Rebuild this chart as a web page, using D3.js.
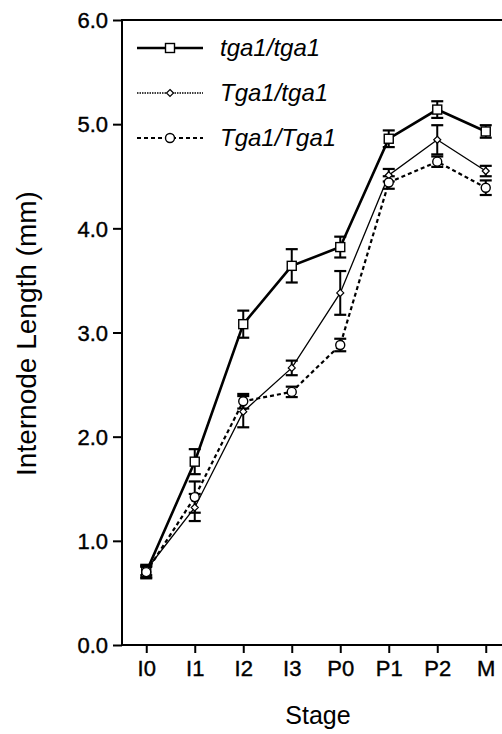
<!DOCTYPE html>
<html>
<head>
<meta charset="utf-8">
<script src="https://cdn.jsdelivr.net/npm/d3@7"></script>
<style>
  body { margin: 0; background: #fff; }
  svg { display: block; }
  text { font-family: "Liberation Sans", Arial, Helvetica, sans-serif; fill: #000; }
</style>
</head>
<body>
<svg id="chart" width="502" height="734"></svg>
<script>
"use strict"

// stages on the x axis
var stages = ["I0", "I1", "I2", "I3", "P0", "P1", "P2", "M"];
var yTicks = [0, 1, 2, 3, 4, 5, 6];

// internode length (mm) and error per genotype
var tgaTga     = [0.70, 1.76, 3.08, 3.64, 3.82, 4.86, 5.14, 4.93];
var tgaTgaErr  = [0.06, 0.12, 0.13, 0.16, 0.10, 0.08, 0.08, 0.06];
var hetero     = [0.72, 1.32, 2.24, 2.66, 3.38, 4.51, 4.85, 4.55];
var heteroErr  = [0.05, 0.13, 0.15, 0.07, 0.21, 0.06, 0.14, 0.05];
var wild       = [0.70, 1.42, 2.34, 2.43, 2.88, 4.44, 4.64, 4.39];
var wildErr    = [0.05, 0.15, 0.07, 0.05, 0.06, 0.06, 0.05, 0.07];

var series = [
    {name: "tga1/tga1", values: tgaTga, err: tgaTgaErr, marker: "square", width: 2.6, dash: null},
    {name: "Tga1/tga1", values: hetero, err: heteroErr, marker: "diamond", width: 1.3, dash: null},
    {name: "Tga1/Tga1", values: wild, err: wildErr, marker: "circle", width: 2.2, dash: "4,3"}
];

var svg = d3.select("#chart");

var plotLeft = 122, plotTop = 20, plotBottom = 645, step = 48.5;

var x = d3.scalePoint().domain(stages).range([plotLeft, plotLeft + 8 * step]).padding(0.5);
var y = d3.scaleLinear().domain([0, 6]).range([plotBottom, plotTop]);

// frame (right side runs off the picture)
svg.append("rect")
    .attr("x", plotLeft).attr("y", plotTop)
    .attr("width", 8 * step).attr("height", plotBottom - plotTop)
    .attr("fill", "none").attr("stroke", "#000").attr("stroke-width", 2);

var yAxis = svg.append("g")
    .attr("transform", "translate(" + plotLeft + ",0)")
    .call(d3.axisLeft(y).tickValues(yTicks).tickFormat(d3.format(".1f")).tickSize(9).tickPadding(5));

var xAxis = svg.append("g")
    .attr("transform", "translate(0," + plotBottom + ")")
    .call(d3.axisBottom(x).tickSize(8).tickPadding(7));

[yAxis, xAxis].forEach(function(g) {
    g.select(".domain").remove();
    g.selectAll("line").attr("stroke", "#000").attr("stroke-width", 2);
    g.selectAll("text").attr("font-size", 22).attr("font-family", "Liberation Sans, Arial, sans-serif")
        .attr("stroke", "#000").attr("stroke-width", 0.4);
});
yAxis.selectAll("text").attr("dy", "0.35em");

// axis titles
svg.append("text")
    .attr("transform", "translate(36," + ((plotTop + plotBottom) / 2 + 1) + ") rotate(-90)")
    .attr("text-anchor", "middle")
    .attr("font-size", 28)
    .text("Internode Length (mm)");

svg.append("text")
    .attr("x", 318).attr("y", 724)
    .attr("text-anchor", "middle")
    .attr("font-size", 25)
    .text("Stage");

function drawMarker(g, type, cx, cy) {
    if (type === "square") {
        g.append("rect").attr("x", cx - 4.5).attr("y", cy - 4.5).attr("width", 9).attr("height", 9)
            .attr("fill", "#fff").attr("stroke", "#000").attr("stroke-width", 1.4);
    } else if (type === "diamond") {
        g.append("path").attr("d", "M" + cx + "," + (cy - 3.5) + "L" + (cx + 3.5) + "," + cy + "L" + cx + "," + (cy + 3.5) + "L" + (cx - 3.5) + "," + cy + "Z")
            .attr("fill", "#fff").attr("stroke", "#000").attr("stroke-width", 1.2);
    } else {
        g.append("circle").attr("cx", cx).attr("cy", cy).attr("r", 4.5)
            .attr("fill", "#fff").attr("stroke", "#000").attr("stroke-width", 1.4);
    }
}

var line = d3.line().x(function(d, i) { return x(stages[i]); }).y(function(d) { return y(d); });

var plot = svg.append("g");

series.forEach(function(s) {
    var g = plot.append("g");

    // error bars
    s.values.forEach(function(v, i) {
        var cx = x(stages[i]);
        var e = s.err[i];
        g.append("line").attr("x1", cx).attr("x2", cx).attr("y1", y(v - e)).attr("y2", y(v + e))
            .attr("stroke", "#000").attr("stroke-width", 2);
        [v - e, v + e].forEach(function(w) {
            g.append("line").attr("x1", cx - 6).attr("x2", cx + 6).attr("y1", y(w)).attr("y2", y(w))
                .attr("stroke", "#000").attr("stroke-width", 2.2);
        });
    });

    g.append("path").datum(s.values)
        .attr("d", line)
        .attr("fill", "none")
        .attr("stroke", "#000")
        .attr("stroke-width", s.width)
        .attr("stroke-dasharray", s.dash);
});

series.forEach(function(s) {
    var g = plot.append("g");
    s.values.forEach(function(v, i) { drawMarker(g, s.marker, x(stages[i]), y(v)); });
});

// legend
var legend = svg.append("g");
series.forEach(function(s, i) {
    var ly = 48 + i * 45;
    legend.append("line").attr("x1", 137).attr("x2", 203).attr("y1", ly).attr("y2", ly)
        .attr("stroke", "#000").attr("stroke-width", s.width)
        .attr("stroke-dasharray", i === 1 ? "1.5,1" : s.dash);
    drawMarker(legend, s.marker, 170, ly);
    legend.append("text").attr("x", 220).attr("y", ly).attr("dy", "0.35em")
        .attr("font-size", 24).attr("font-style", "italic")
        .text(s.name);
});
</script>
</body>
</html>
